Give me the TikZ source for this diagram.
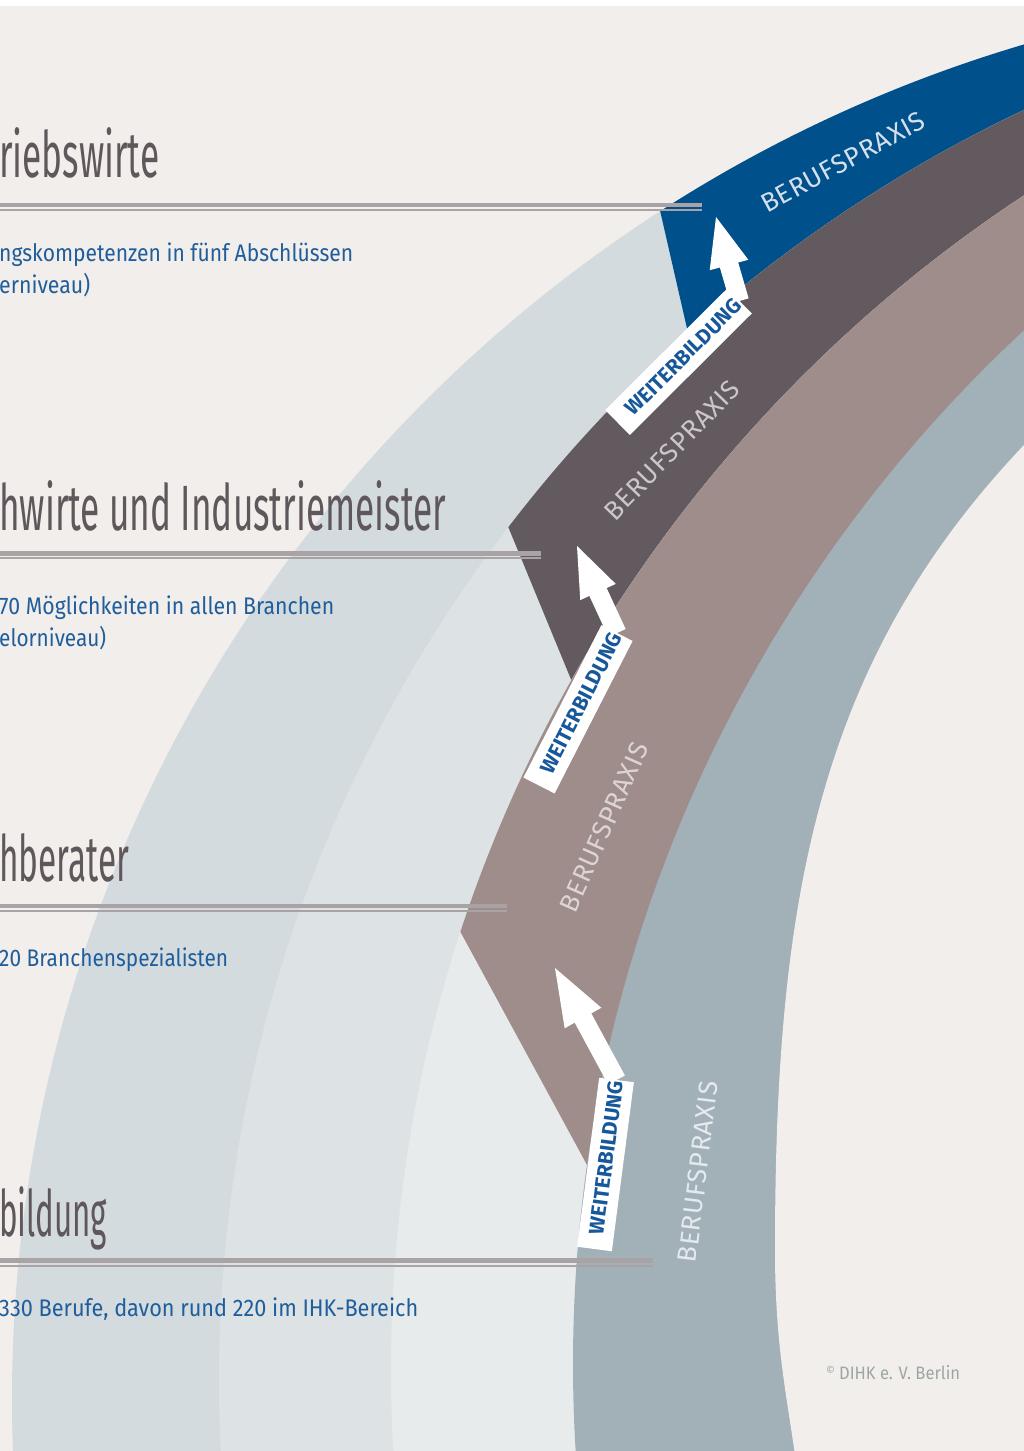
\documentclass[tikz,border=0pt]{standalone}
\usepackage{fontspec}
\usepackage{graphicx}
\usetikzlibrary{calc}
\setmainfont{Fira Sans}
\IfFontExistsTF{Fira Sans Book}{%
  \newfontfamily\headfont{Fira Sans Book}%
  \newfontfamily\praxfont[LetterSpace=3]{Fira Sans Book}%
}{%
  \newfontfamily\headfont{Fira Sans}%
  \newfontfamily\praxfont[LetterSpace=3]{Fira Sans}%
}
\newfontfamily\bodyfont{Fira Sans}
\definecolor{bgc}{HTML}{F2EEEB}
\definecolor{bandA}{HTML}{D3DBDF}
\definecolor{bandB}{HTML}{DDE2E5}
\definecolor{bandC}{HTML}{E8EBEC}
\definecolor{blueband}{HTML}{00508C}
\definecolor{darkband}{HTML}{635A5F}
\definecolor{mauveband}{HTML}{9E8D8B}
\definecolor{slateband}{HTML}{A2B0B7}
\definecolor{linec}{HTML}{AAA3A5}
\definecolor{headc}{HTML}{5F575B}
\definecolor{subc}{HTML}{1F5E9B}
\definecolor{wbc}{HTML}{17589A}
\definecolor{copyc}{HTML}{9BA6A5}
\definecolor{praxA}{HTML}{D5E0EC}
\definecolor{praxB}{HTML}{CDC6C9}
\definecolor{praxC}{HTML}{DDD5D3}
\definecolor{praxD}{HTML}{E4EAED}
\newcommand\fitw[2]{\resizebox{#1}{\height}{#2}}
\tikzset{
  headtext/.style={anchor=base west, inner sep=0pt, text=headc, font=\headfont\fontsize{64}{64}\selectfont},
  subtext/.style={anchor=base west, inner sep=0pt, text=subc, font=\bodyfont\fontsize{24}{24}\selectfont},
  praxtext/.style={inner sep=0pt, font=\praxfont\fontsize{26.5}{26.5}\selectfont},
  wbtext/.style={inner sep=0pt, text=wbc, font=\bodyfont\bfseries\fontsize{21}{21}\selectfont},
  thickrule/.style={draw=linec, line width=4.2pt},
  thinrule/.style={draw=linec, line width=1.7pt},
  bandpart/.style={white, line width=35pt},
  shaftpart/.style={white, line width=19pt},
}
\begin{document}
\begin{tikzpicture}[x=1pt,y=-1pt]
\useasboundingbox (0,0) rectangle (1024,1451);
\clip (0,0) rectangle (1024,1451);
\fill[white] (0,0) rectangle (1024,6);
\fill[bgc] (0,6) rectangle (1024,1451);

% circle centres of the band boundaries
\coordinate (C0) at (1424,1399);
\coordinate (C1) at (1626,1382);
\coordinate (C2) at (1795,1369);
\coordinate (C3) at (1983,1364);

% band 1
\fill[bandA] (C0) circle[radius=1412pt];
\begin{scope}
  \clip (C0) circle[radius=1412pt];
  \fill[blueband] (589,-100) -- (955,1500) -- (1100,1500) -- (1100,-100) -- cycle;
\end{scope}
% band 2
\fill[bandB] (C1) circle[radius=1407pt];
\begin{scope}
  \clip (C1) circle[radius=1407pt];
  \fill[darkband] (250,-100) -- (909,1500) -- (1100,1500) -- (1100,-100) -- cycle;
\end{scope}
% band 3
\fill[bandC] (C2) circle[radius=1404pt];
\begin{scope}
  \clip (C2) circle[radius=1404pt];
  \fill[mauveband] (-100,-100) -- (769,1500) -- (1100,1500) -- (1100,-100) -- cycle;
\end{scope}
% band 4
\fill[slateband] (C3) circle[radius=1410pt];
% inside of the arc
\fill[bgc] (1110,365) -- (1024,445)
  .. controls (817.3,662.5) and (775,900) .. (775,1250)
  .. controls (775,1350) and (788,1400) .. (797,1470)
  -- (1110,1470) -- cycle;

% rules
\draw[thickrule] (0,205.3) -- (702,205.3);
\draw[thinrule] (0,209.9) -- (702,209.9);
\draw[thickrule] (0,553.5) -- (541,553.5);
\draw[thinrule] (0,558.3) -- (541,558.3);
\draw[thickrule] (0,906.3) -- (507,906.3);
\draw[thinrule] (0,911.1) -- (507,911.1);
\draw[thickrule] (0,1260.5) -- (653,1260.5);
\draw[thinrule] (0,1265.8) -- (653,1265.8);

% headings
\node[headtext] (t1) at (-1,177) {\fitw{160pt}{riebswirte}};
\node[headtext] (t2) at (-1,530) {\fitw{447pt}{hwirte und Industriemeister}};
\node[headtext] (t3) at (-1,881.5) {\fitw{130pt}{hberater}};
\node[headtext] (t4) at (-1,1236.5) {\fitw{108pt}{bildung}};

% sub texts
\node[subtext] (s1a) at (-1,261.7) {\fitw{354pt}{ngskompetenzen in fünf Abschlüssen}};
\node[subtext] (s1b) at (-1,293) {\fitw{91pt}{erniveau)}};
\node[subtext] (s2a) at (-1,614) {\fitw{335pt}{70 Möglichkeiten in allen Branchen}};
\node[subtext] (s2b) at (-1,646) {\fitw{107pt}{elorniveau)}};
\node[subtext] (s3) at (-1,966.5) {\fitw{229pt}{20 Branchenspezialisten}};
\node[subtext] (s4) at (-1,1316.7) {\fitw{419pt}{330 Berufe, davon rund 220 im IHK-Bereich}};

% BERUFSPRAXIS labels
\node[praxtext, text=praxA, rotate=28.5] (b1) at (843,162) {BERUFSPRAXIS};
\node[praxtext, text=praxB, rotate=46] (b2) at (672,450) {BERUFSPRAXIS};
\node[praxtext, text=praxC, rotate=66] (b3) at (604,827) {BERUFSPRAXIS};
\node[praxtext, text=praxD, rotate=83] (b4) at (698,1172) {BERUFSPRAXIS};

% arrows
\coordinate (T1) at (617.5,422.5); \coordinate (E1) at (739.5,301);
\coordinate (H1) at (729,265);     \coordinate (P1) at (716,217);
\coordinate (T2) at (539,785.5);   \coordinate (E2) at (617,633);
\coordinate (H2) at (598,592);     \coordinate (P2) at (577,546);
\coordinate (T3) at (594.5,1249);  \coordinate (E3) at (616.5,1080);
\coordinate (H3) at (583,1018);    \coordinate (P3) at (555,968);

\draw[bandpart] (T1) -- (E1);
\draw[shaftpart] (E1) -- ($(H1)!1pt!(P1)$);
\fill[white] ($(H1)!20pt!90:(P1)$) -- (P1) -- ($(H1)!20pt!-90:(P1)$) -- cycle;
\path (T1) -- (E1) node[wbtext, sloped, pos=0.54] (w1) {WEITERBILDUNG};

\draw[bandpart] (T2) -- (E2);
\draw[shaftpart] (E2) -- ($(H2)!1pt!(P2)$);
\fill[white] ($(H2)!19.5pt!90:(P2)$) -- (P2) -- ($(H2)!19.5pt!-90:(P2)$) -- cycle;
\path (T2) -- (E2) node[wbtext, sloped, pos=0.54] (w2) {WEITERBILDUNG};

\draw[bandpart] (T3) -- (E3);
\draw[shaftpart] (E3) -- ($(H3)!1pt!(P3)$);
\fill[white] ($(H3)!21pt!90:(P3)$) -- (P3) -- ($(H3)!21pt!-90:(P3)$) -- cycle;
\path (T3) -- (E3) node[wbtext, sloped, pos=0.54] (w3) {WEITERBILDUNG};

% copyright
\node[anchor=base west, inner sep=0pt, text=copyc, font=\bodyfont\fontsize{18}{18}\selectfont] (cp) at (826,1379.3)
  {\raisebox{5pt}{\fontsize{11}{11}\selectfont ©}\hspace{4pt}\fitw{121pt}{DIHK e. V. Berlin}};
\end{tikzpicture}
\end{document}
